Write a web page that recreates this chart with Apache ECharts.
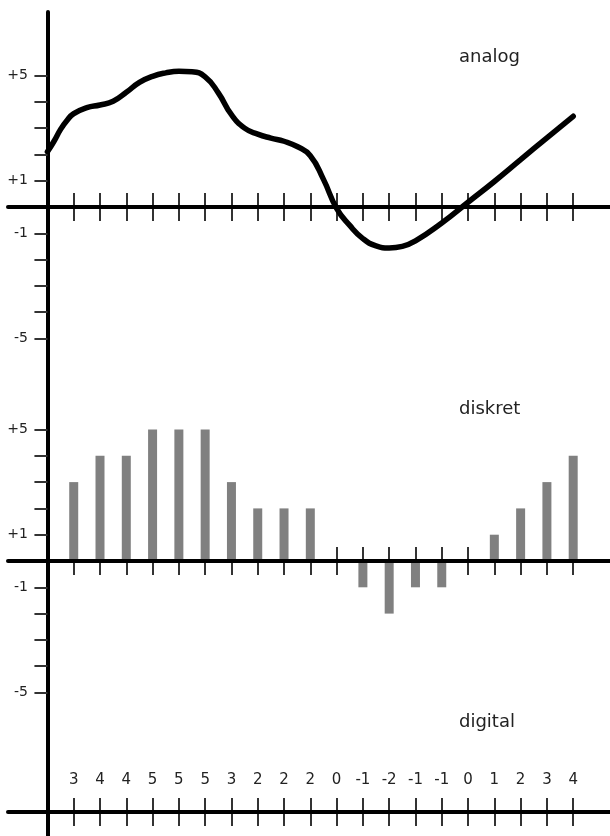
<!DOCTYPE html>
<html>
<head>
<meta charset="utf-8">
<script src="https://cdn.jsdelivr.net/npm/echarts@6/dist/echarts.min.js"></script>
<style>
html,body{margin:0;padding:0;background:#fff;}
#c{width:610px;height:836px;}
</style>
</head>
<body>
<div id="c"></div>
<script>
// ---- data ----
var samples = [1,2,3,4,5,6,7,8,9,10,11,12,13,14,15,16,17,18,19,20];
var diskretValues = [3,4,4,5,5,5,3,2,2,2,0,-1,-2,-1,-1,0,1,2,3,4];
var digitalValues = [3,4,4,5,5,5,3,2,2,2,0,-1,-2,-1,-1,0,1,2,3,4];
var analogT = [0,0.25,0.5,0.75,1,1.5,2,2.5,3,3.5,4,4.5,5,5.5,6,6.5,7,7.5,8,8.5,9,9.5,10,10.5,11,11.5,12,12.5,13,13.5,14,15,16,17,18,19,20];
var analogV = [2.1,2.5,2.95,3.3,3.55,3.78,3.88,4.02,4.36,4.74,4.97,5.1,5.16,5.14,4.95,4.34,3.51,3.0,2.77,2.62,2.5,2.3,1.95,1.05,-0.05,-0.7,-1.2,-1.48,-1.56,-1.5,-1.29,-0.61,0.18,0.97,1.8,2.63,3.45];
var yTickValues = [-5,-4,-3,-2,-1,1,2,3,4,5];
var yLabelValues = [-5,-1,1,5];
var panelTitles = ['analog','diskret','digital'];

// ---- layout ----
var U = 26.3;
var panels = [
  {top:12, zero:207, bottom:384},
  {top:384, zero:561, bottom:710},
  {top:710, zero:812, bottom:836}
];
var XMIN = -1.5, XMAX = 21.4;
var FONT = '"DejaVu Sans", sans-serif';

var grids = [], xAxes = [], yAxes = [];
panels.forEach(function(p, g){
  grids.push({left:8, right:0, top:p.top, height:p.bottom - p.top, containLabel:false, outerBoundsMode:'none'});
  var base = {type:'value', gridIndex:g, min:XMIN, max:XMAX, splitLine:{show:false},
    axisLabel:{show:false}};
  xAxes.push(Object.assign({}, base, {position:'bottom', z:5,
    axisLine:{show:true, onZero:true, onZeroAxisIndex:g, lineStyle:{color:'#000', width:4}},
    axisTick:{show:false}}));
  xAxes.push(Object.assign({}, base, {position:'bottom', z:0,
    axisLine:{show:false, onZero:true, onZeroAxisIndex:g},
    axisTick:{show:true, length:14, customValues:samples, lineStyle:{color:'#333', width:2}}}));
  xAxes.push(Object.assign({}, base, {position:'top', z:0,
    axisLine:{show:false, onZero:true, onZeroAxisIndex:g},
    axisTick:{show:true, length:14, customValues:samples, lineStyle:{color:'#333', width:2}}}));
  var ymax = (p.zero - p.top) / U, ymin = -(p.bottom - p.zero) / U;
  yAxes.push({type:'value', gridIndex:g, min:ymin, max:ymax, position:'left', z:5,
    splitLine:{show:false},
    axisLine:{show:true, onZero:true, onZeroAxisIndex:g*3, lineStyle:{color:'#000', width:4}},
    axisTick:{show:g < 2, length:13, customValues:yTickValues, lineStyle:{color:'#333', width:2}},
    axisLabel:{show:g < 2, customValues:yLabelValues, margin:-20, fontSize:14, fontFamily:FONT, color:'#222',
      align:'right', padding:[0,0,8,0],
      formatter:function(v){ v = Math.round(v); return v > 0 ? '+' + v : String(v); }}
  });
});
// row of digital values (labels only)
grids.push({left:8, right:0, top:789, height:2, containLabel:false, outerBoundsMode:'none'});
xAxes.push({type:'value', gridIndex:3, min:XMIN, max:XMAX, position:'top',
  splitLine:{show:false}, axisLine:{show:false, onZero:false}, axisTick:{show:false},
  axisLabel:{show:true, customValues:samples, margin:1, fontSize:15, fontFamily:FONT, color:'#222',
    formatter:function(v){ var i = samples.indexOf(Math.round(v)); return i >= 0 ? String(digitalValues[i]) : ''; }}});
yAxes.push({type:'value', gridIndex:3, show:false, min:0, max:1});

var titleTops = [48, 400, 713];
var titles = panelTitles.map(function(t, i){
  return {text:t, left:459, top:titleTops[i], padding:0,
    textStyle:{fontSize:18, fontWeight:'normal', fontFamily:FONT, color:'#222'}};
});

var analogData = analogT.map(function(t, i){ return [t, analogV[i]]; });
var barData = samples.map(function(s, i){ return [s, diskretValues[i]]; });

var chart = echarts.init(document.getElementById('c'), null, {renderer:'canvas'});
chart.setOption({
  animation:false,
  backgroundColor:'#fff',
  title:titles,
  grid:grids,
  xAxis:xAxes,
  yAxis:yAxes,
  series:[
    {type:'line', xAxisIndex:1, yAxisIndex:0, data:analogData, smooth:0.5, showSymbol:false,
      lineStyle:{color:'#000', width:5.5, cap:'round'}, z:3},
    {type:'bar', xAxisIndex:4, yAxisIndex:1, data:barData, barWidth:9,
      itemStyle:{color:'#808080'}, z:2}
  ]
});
</script>
</body>
</html>
